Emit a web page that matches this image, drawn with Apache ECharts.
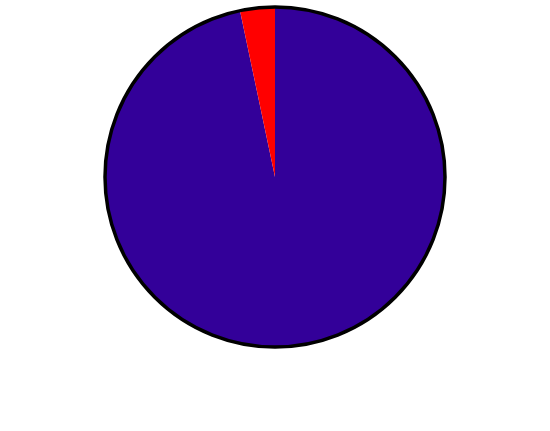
<!DOCTYPE html>
<html>
<head>
<meta charset="utf-8">
<script src="https://cdn.jsdelivr.net/npm/echarts@6/dist/echarts.min.js"></script>
<style>
html,body{margin:0;padding:0;background:#fff;}
#chart{width:550px;height:431px;}
</style>
</head>
<body>
<div id="chart"></div>
<script>
const categories = ['Majority', 'Minority'];
const values = [96.7, 3.3];
const colors = ['#330099', '#ff0000'];

const chart = echarts.init(document.getElementById('chart'), null, {renderer: 'canvas'});
chart.setOption({
  animation: false,
  series: [
    {
      type: 'pie',
      center: [275, 177],
      radius: [0, 170],
      startAngle: 90,
      clockwise: true,
      label: {show: false},
      labelLine: {show: false},
      silent: true,
      data: categories.map((c, i) => ({name: c, value: values[i], itemStyle: {color: colors[i]}}))
    },
    {
      type: 'pie',
      center: [275, 177],
      radius: [0, 170],
      label: {show: false},
      labelLine: {show: false},
      silent: true,
      z: 3,
      data: [{name: 'outline', value: 1, itemStyle: {color: 'transparent', borderColor: '#000', borderWidth: 3.5}}]
    }
  ]
});
</script>
</body>
</html>
